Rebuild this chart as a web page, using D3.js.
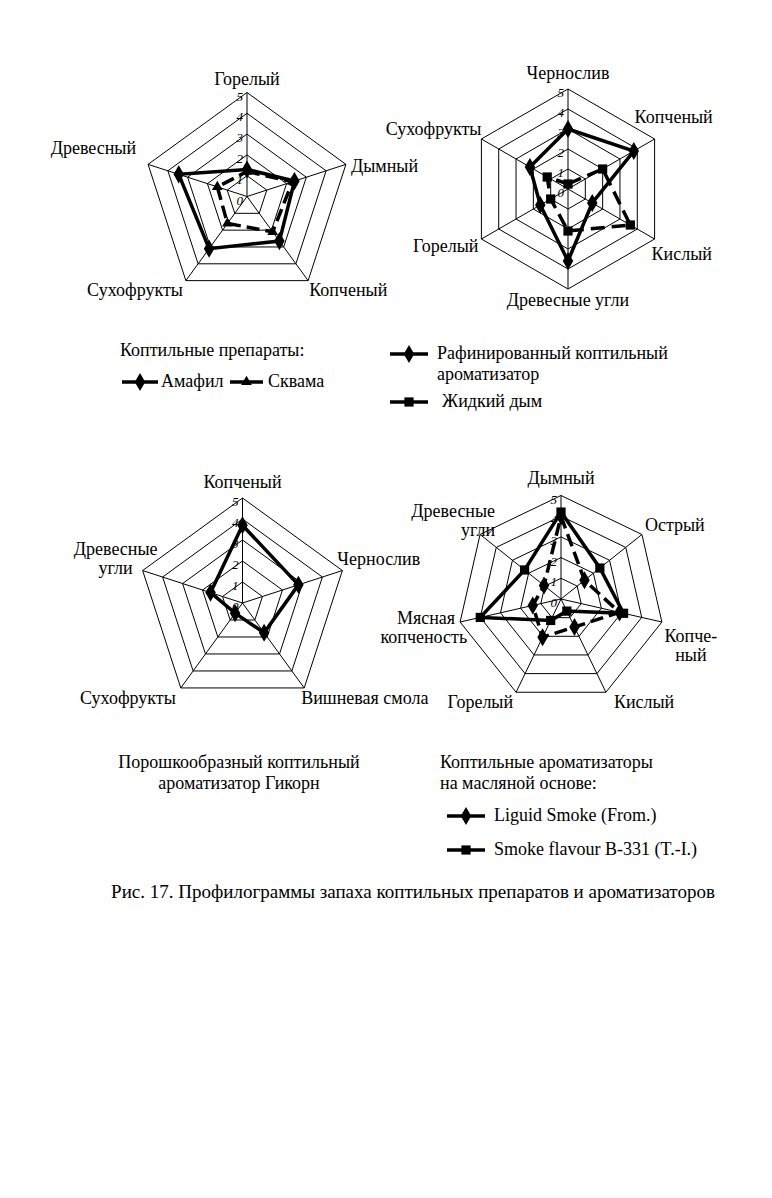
<!DOCTYPE html>
<html>
<head>
    <script src="https://d3js.org/d3.v7.min.js"></script>
    <style>
        body {
            margin: 0;
            background: #fff;
            font-family: 'Liberation Serif', 'DejaVu Serif', serif;
        }

        .grid {
            fill: none;
            stroke: #000;
            stroke-width: 1px;
        }

        .series {
            fill: none;
            stroke: #000;
            stroke-width: 3.5px;
            stroke-linejoin: miter;
        }

        .lbl {
            font-size: 18px;
            fill: #000;
        }

        .tick {
            font-size: 13px;
            font-style: italic;
            fill: #000;
        }
    </style>
</head>

<body>
    <script>
        // --- data ---
        const ticks = [0, 1, 2, 3, 4, 5];

        // chart 1: Коптильные препараты
        const axes1 = ['Горелый', 'Дымный', 'Копченый', 'Сухофрукты', 'Древесный'];
        const amafil = [1.3, 2.4, 2.65, 3.1, 3.45];
        const skvama = [1.2, 2.3, 2.1, 1.6, 1.5];

        // chart 2
        const axes2 = ['Чернослив', 'Копченый', 'Кислый', 'Древесные угли', 'Горелый', 'Сухофрукты'];
        const rafinir = [3.0, 3.8, 1.4, 3.6, 1.6, 2.2];
        const zhidkiyDym = [0.25, 2.0, 3.6, 2.1, 1.0, 1.2];

        // chart 3: Гикорн
        const axes3 = ['Копченый', 'Чернослив', 'Вишневая смола', 'Сухофрукты', 'Древесные угли'];
        const gikorn = [3.7, 2.8, 1.75, 0.6, 1.6];

        // chart 4: ароматизаторы на масляной основе
        const axes4 = ['Дымный', 'Острый', 'Копченый', 'Кислый', 'Горелый', 'Мясная копченость', 'Древесные угли'];
        const liquidSmoke = [4.0, 1.45, 2.9, 1.5, 2.05, 1.4, 1.05];
        const smokeB331 = [4.2, 2.4, 3.1, 0.65, 1.15, 4.0, 2.25];

        const width = 772, height = 1198;

        const svg = d3.select('body').append('svg')
            .attr('width', width)
            .attr('height', height);

        const sym = {
            diamond: d3.symbol().type(d3.symbolDiamond).size(95),
            square: d3.symbol().type(d3.symbolSquare).size(85),
            triangle: d3.symbol().type(d3.symbolTriangle).size(50)
        };

        // label layout: [dx, dy, anchor, lines] relative to the outer vertex
        function radar(o) {
            const n = o.axes.length;
            const g = svg.append('g').attr('transform', `translate(${o.cx},${o.cy})`);
            const r = d3.scaleLinear().domain([0, 5]).range([0, o.R]);
            const ang = i => i * 2 * Math.PI / n;
            const pt = (v, i) => [r(v) * Math.sin(ang(i)), -r(v) * Math.cos(ang(i))];

            const ring = d3.lineRadial()
                .angle((d, i) => ang(i))
                .radius(d => r(d))
                .curve(d3.curveLinearClosed);

            g.selectAll('path.ring')
                .data(ticks.slice(1))
                .join('path')
                .attr('class', 'grid ring')
                .attr('d', v => ring(d3.range(n).map(() => v)));

            g.selectAll('line.spoke')
                .data(o.axes)
                .join('line')
                .attr('class', 'grid spoke')
                .attr('x1', 0).attr('y1', 0)
                .attr('x2', (d, i) => pt(5, i)[0])
                .attr('y2', (d, i) => pt(5, i)[1]);

            o.series.forEach(s => {
                g.append('path')
                    .attr('class', 'series')
                    .attr('stroke-dasharray', s.dash || null)
                    .attr('d', ring(s.values));
                g.selectAll(null)
                    .data(s.values)
                    .join('path')
                    .attr('transform', (v, i) => `translate(${pt(v, i)})`)
                    .attr('d', sym[s.symbol]);
            });

            g.selectAll('text.tick')
                .data(ticks)
                .join('text')
                .attr('class', 'tick')
                .attr('x', -4)
                .attr('y', v => -r(v) + 8)
                .attr('text-anchor', 'end')
                .text(v => v);

            o.axes.forEach((name, i) => {
                const [vx, vy] = pt(5, i);
                const L = o.labels[i];
                const lines = L[3] || [name];
                lines.forEach((t, k) => {
                    const dx = Array.isArray(L[0]) ? L[0][k] : L[0];
                    g.append('text')
                        .attr('class', 'lbl')
                        .attr('x', vx + dx)
                        .attr('y', vy + L[1] + k * 19)
                        .attr('text-anchor', L[2])
                        .text(t);
                });
            });
        }

        radar({
            cx: 247, cy: 196.5, R: 104, axes: axes1,
            series: [
                { values: skvama, dash: '13,6', symbol: 'triangle' },
                { values: amafil, symbol: 'diamond' }
            ],
            labels: [[0, -8, 'middle'], [5, 8, 'start'], [1, 15, 'start'], [-3, 15, 'end'], [-12, -10, 'end']]
        });

        radar({
            cx: 568, cy: 189, R: 100, axes: axes2,
            series: [
                { values: zhidkiyDym, dash: '14,7', symbol: 'square' },
                { values: rafinir, symbol: 'diamond' }
            ],
            labels: [[0, -10, 'middle'], [-20, -16, 'start'], [-3, 21, 'start'], [0, 17, 'middle'], [-3, 13, 'end'], [0, -4, 'end']]
        });

        radar({
            cx: 242.5, cy: 603, R: 105, axes: axes3,
            series: [
                { values: gikorn, symbol: 'diamond' }
            ],
            labels: [[0, -10, 'middle'], [-5, -6, 'start'], [-3, 16, 'start'], [-5, 16, 'end'],
                [-27, -16, 'middle', ['Древесные', 'угли']]]
        });

        radar({
            cx: 561, cy: 599, R: 103.5, axes: axes4,
            series: [
                { values: liquidSmoke, dash: '13,6', symbol: 'diamond' },
                { values: smokeB331, symbol: 'square' }
            ],
            labels: [[0, -12, 'middle'], [3, -3, 'start'], [29, 20, 'middle', ['Копче-', 'ный']],
                [8, 16, 'start'], [-3, 16, 'end'], [[-5, 7], 2, 'end', ['Мясная', 'копченость']],
                [15, -17, 'end', ['Древесные', 'угли']]]
        });

        // legends
        function legendItem(x, y, len, symbol, lines, tx) {
            svg.append('line')
                .attr('x1', x).attr('x2', x + len)
                .attr('y1', y).attr('y2', y)
                .attr('stroke', '#000').attr('stroke-width', 3.5);
            svg.append('path')
                .attr('transform', `translate(${x + len / 2},${y})`)
                .attr('d', sym[symbol]);
            lines.forEach((t, k) => {
                svg.append('text').attr('class', 'lbl')
                    .attr('x', tx).attr('y', y + 5 + k * 21)
                    .text(t);
            });
        }

        function textLine(x, y, t, anchor) {
            svg.append('text').attr('class', 'lbl')
                .attr('x', x).attr('y', y)
                .attr('text-anchor', anchor || 'start')
                .text(t);
        }

        textLine(120, 356, 'Коптильные препараты:');
        legendItem(122, 382, 36, 'diamond', ['Амафил'], 161);
        legendItem(230, 382, 33, 'triangle', ['Сквама'], 268);
        legendItem(390, 354, 38, 'diamond', ['Рафинированный коптильный', 'ароматизатор'], 437);
        legendItem(390, 402, 38, 'square', ['Жидкий дым'], 442);

        textLine(239, 768, 'Порошкообразный коптильный', 'middle');
        textLine(239, 789, 'ароматизатор Гикорн', 'middle');

        textLine(440, 768, 'Коптильные ароматизаторы');
        textLine(440, 789, 'на масляной основе:');
        legendItem(447, 816, 38, 'diamond', ['Liguid Smoke (From.)'], 494);
        legendItem(447, 850, 38, 'square', ['Smoke flavour  B-331 (T.-I.)'], 494);

        svg.append('text').attr('class', 'lbl')
            .attr('x', 413).attr('y', 898)
            .attr('text-anchor', 'middle')
            .style('font-size', '19px')
            .text('Рис. 17. Профилограммы запаха коптильных препаратов и ароматизаторов');
    </script>
</body>

</html>
